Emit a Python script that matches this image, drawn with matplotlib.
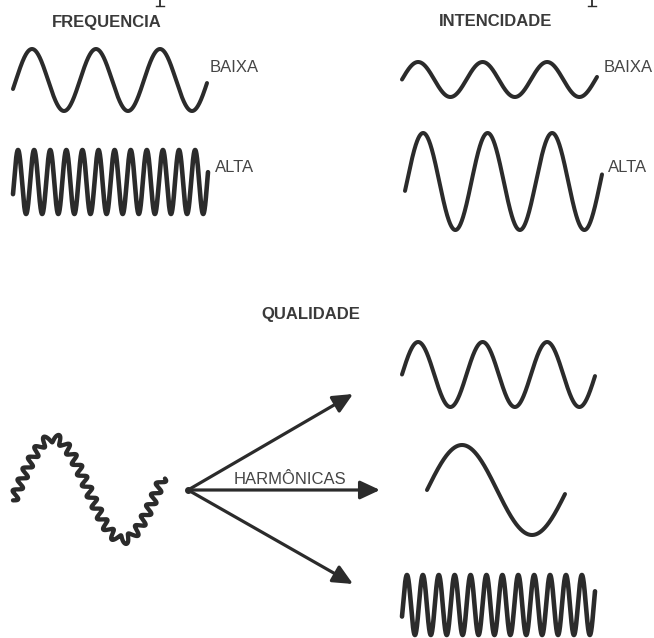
import numpy as np
import matplotlib
matplotlib.use("Agg")
import matplotlib.pyplot as plt

# Ondas simples: nome, inicio x, fim x, centro y, amplitude, periodo, fase x0 (px)
wave_names = ["freq_baixa", "freq_alta", "int_baixa", "int_alta", "qual_a", "qual_b", "qual_c"]
wave_x_start = [13, 13, 402, 405, 402, 427, 402]
wave_x_end = [207, 208, 597, 602, 595, 565, 595]
wave_center = [80, 182, 79.5, 181.5, 374.5, 490, 605]
wave_amp = [31, 32, 17.5, 48.5, 32.5, 45, 30]
wave_period = [64, 16.1, 64.5, 64.5, 64.5, 140, 15.9]
wave_x0 = [16, 14, 402, 407, 402, 427, 403]
wave_lw = [2.9, 3.3, 2.9, 2.9, 2.9, 2.9, 3.3]

# Onda complexa (fundamental + harmonica em espiral)
complex_x = [13, 163]
complex_center = 489
complex_amp = 51
complex_period = 140
complex_x0 = 18
wiggle_amp = 4.3
wiggle_len = 12.0

# Textos
titles = ["FREQUENCIA", "INTENCIDADE", "QUALIDADE"]
title_pos = [(107, 22), (496, 22), (311, 314)]
labels = ["BAIXA", "ALTA", "BAIXA", "ALTA"]
label_pos = [(210, 67), (215, 168), (604, 67), (608, 168)]

# Setas das harmonicas
arrow_origin = (188, 490)
arrow_tips = [(353, 394), (380, 490), (353, 584)]

# restos de letras cortadas no topo (x do traço)
stub_x = [160, 592]

ink = "#2b2b2b"
text_col = "#3a3a3a"

fig = plt.figure(figsize=(6.54, 6.38), dpi=100)
ax = fig.add_axes([0, 0, 1, 1])
ax.set_xlim(0, 654)
ax.set_ylim(638, 0)
ax.axis("off")

for i in range(len(wave_names)):
    x = np.linspace(wave_x_start[i], wave_x_end[i], 1500)
    y = wave_center[i] - wave_amp[i] * np.sin(2 * np.pi * (x - wave_x0[i]) / wave_period[i])
    ax.plot(x, y, color=ink, lw=wave_lw[i], solid_capstyle="round", solid_joinstyle="round")

# onda complexa: curva base com ondulacao perpendicular
x = np.linspace(complex_x[0], complex_x[1], 4000)
y = complex_center - complex_amp * np.sin(2 * np.pi * (x - complex_x0) / complex_period)
dx = np.gradient(x)
dy = np.gradient(y)
ds = np.hypot(dx, dy)
s = np.cumsum(ds) - ds[0]
nx, ny = -dy / ds, dx / ds
w = wiggle_amp * np.sin(2 * np.pi * s / wiggle_len)
ax.plot(x + w * nx, y + w * ny, color=ink, lw=3.1, solid_capstyle="round")

for t, (tx, ty) in zip(titles, title_pos):
    ax.text(tx, ty, t, ha="center", va="center", fontsize=12, fontweight="bold",
            family="Liberation Sans", color=text_col)
for t, (tx, ty) in zip(labels, label_pos):
    ax.text(tx, ty, t, ha="left", va="center", fontsize=12,
            family="Liberation Sans", color="#454545")

for tip in arrow_tips:
    ax.annotate("", xy=tip, xytext=arrow_origin,
                arrowprops=dict(arrowstyle="-|>,head_length=0.6,head_width=0.28",
                                mutation_scale=20, lw=2.3, color=ink,
                                shrinkA=0, shrinkB=0))
ax.plot(*arrow_origin, "o", color=ink, ms=4)
ax.text(290, 479, "HARMÔNICAS", ha="center", va="center", fontsize=12,
        family="Liberation Sans", color="#454545")

for sx in stub_x:
    ax.plot([sx, sx], [0, 6], color=ink, lw=1.3)
    ax.plot([sx - 4, sx + 4], [6, 6], color=ink, lw=1.0)

fig.savefig("out.png", dpi=100)
